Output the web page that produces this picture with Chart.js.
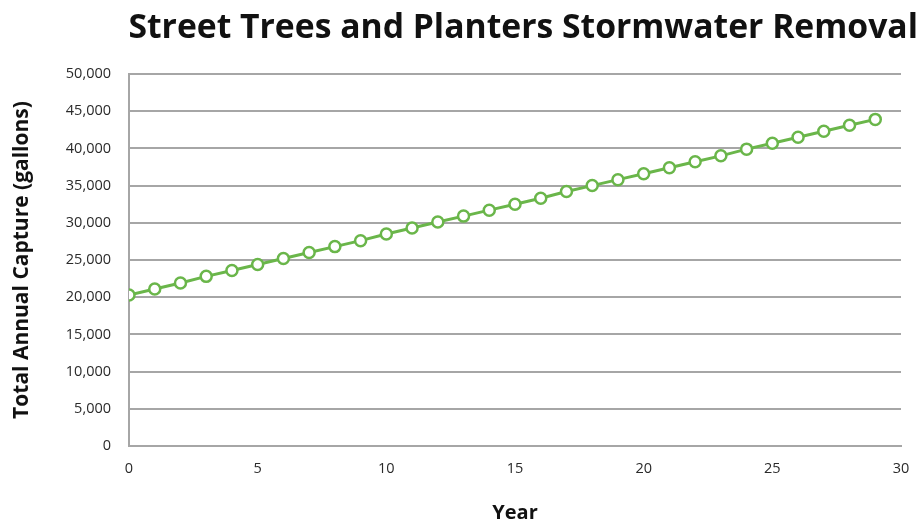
<!DOCTYPE html>
<html>
<head>
<meta charset="utf-8">
<script src="https://cdn.jsdelivr.net/npm/chart.js@4.4.0/dist/chart.umd.min.js"></script>
<style>
  html, body { margin: 0; padding: 0; background: #fff; }
  #wrap { width: 924px; height: 525px; }
</style>
</head>
<body>
<div id="wrap"><canvas id="stormChart" width="924" height="525"></canvas></div>
<script>
// Year 0..29 and captured gallons
var years = [0, 1, 2, 3, 4, 5, 6, 7, 8, 9, 10, 11, 12, 13, 14, 15, 16, 17, 18, 19, 20, 21, 22, 23, 24, 25, 26, 27, 28, 29];
var capture = [20300, 21100, 21900, 22800, 23600, 24400, 25200, 26000, 26800, 27600,
               28500, 29300, 30100, 30900, 31700, 32500, 33300, 34200, 35000, 35800,
               36600, 37400, 38200, 39000, 39900, 40700, 41500, 42300, 43100, 43900];
var xTicks = [0, 5, 10, 15, 20, 25, 30];
var yTicks = [0, 5000, 10000, 15000, 20000, 25000, 30000, 35000, 40000, 45000, 50000];
var titleText = 'Street Trees and Planters Stormwater Removal';

var green = '#6ab64a';
var grid = '#a6a6a6';
var font = "'Open Sans', 'DejaVu Sans', sans-serif";

var points = years.map(function (y, i) { return { x: y, y: capture[i] }; });

// title sits right-aligned past the plot edge, like the original
var titlePlugin = {
    id: 'bigTitle',
    afterDraw: function (chart) {
        var c = chart.ctx;
        c.save();
        c.font = 'bold 33.7px ' + font;
        c.fillStyle = '#111';
        c.textAlign = 'right';
        c.textBaseline = 'middle';
        c.fillText(titleText, chart.chartArea.right + 17, 28);
        c.restore();
    }
};

var ctx = document.getElementById('stormChart').getContext('2d');
var chart = new Chart(ctx, {
    type: 'line',
    data: {
        datasets: [{
            label: 'Total Annual Capture',
            data: points,
            borderColor: green,
            borderWidth: 3,
            pointRadius: 5.5,
            pointBorderWidth: 2.5,
            pointBackgroundColor: '#fff',
            pointBorderColor: green,
            tension: 0,
            fill: false
        }]
    },
    options: {
        responsive: false,
        animation: false,
        layout: { padding: { top: 74, right: 23, bottom: 0, left: 0 } },
        plugins: {
            legend: { display: false },
            tooltip: { enabled: false },
            title: { display: false }
        },
        scales: {
            x: {
                type: 'linear',
                min: 0,
                max: 30,
                afterBuildTicks: function (axis) {
                    axis.ticks = xTicks.map(function (v) { return { value: v }; });
                },
                afterFit: function (axis) { axis.height = 79; },
                grid: { display: false, drawTicks: false },
                border: { display: true, color: grid, width: 2 },
                ticks: {
                    color: '#2a2a2a',
                    font: { family: font, size: 14.5 },
                    padding: 14,
                    maxRotation: 0
                },
                title: {
                    display: true,
                    text: 'Year',
                    color: '#111',
                    font: { family: font, size: 20, weight: 'bold' },
                    padding: { top: 0, bottom: 0 }
                }
            },
            y: {
                min: 0,
                max: 50000,
                afterBuildTicks: function (axis) {
                    axis.ticks = yTicks.map(function (v) { return { value: v }; });
                },
                afterFit: function (axis) { axis.width = 129; },
                grid: { color: grid, lineWidth: 2, drawTicks: false },
                border: { display: true, color: grid, width: 2 },
                ticks: {
                    color: '#2a2a2a',
                    font: { family: font, size: 14.5 },
                    padding: 18,
                    callback: function (v) { return v.toLocaleString('en-US'); }
                },
                title: {
                    display: true,
                    text: 'Total Annual Capture (gallons)',
                    color: '#111',
                    font: { family: font, size: 21, weight: 'bold' },
                    padding: { top: 9, bottom: 0 }
                }
            }
        }
    },
    plugins: [titlePlugin]
});
</script>
</body>
</html>
